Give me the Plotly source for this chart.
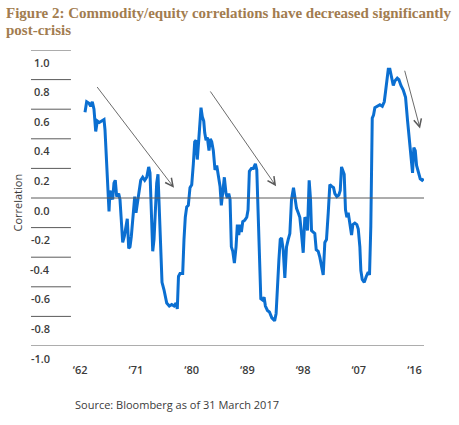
import plotly.graph_objects as go

# commodity/equity correlation
years = [1962.77, 1963.04, 1963.42, 1963.69, 1963.95, 1964.22, 1964.50, 1964.76, 1965.08, 1965.47,
         1965.84, 1966.00, 1966.28, 1966.44, 1966.65, 1966.81, 1967.08, 1967.24, 1967.45, 1967.66,
         1967.89, 1968.21, 1968.42, 1968.59, 1968.86, 1969.12, 1969.39, 1969.60, 1969.83, 1970.04,
         1970.25, 1970.48, 1970.80, 1971.01, 1971.22, 1971.45, 1971.77, 1972.09, 1972.42, 1972.74,
         1973.06, 1973.27, 1973.48, 1973.71, 1973.92, 1974.13, 1974.35, 1974.56, 1974.77, 1975.00,
         1975.21, 1975.53, 1975.97, 1976.39, 1976.78, 1977.15, 1977.47, 1977.68, 1977.87, 1978.12,
         1978.55, 1978.76, 1978.97, 1979.20, 1979.46, 1979.73, 1980.01, 1980.27, 1980.49, 1980.70,
         1980.91, 1981.14, 1981.35, 1981.51, 1981.72, 1981.95, 1982.11, 1982.32, 1982.53, 1982.80,
         1983.01, 1983.24, 1983.50, 1983.77, 1984.05, 1984.31, 1984.58, 1984.79, 1985.02, 1985.28,
         1985.55, 1985.76, 1985.99, 1986.20, 1986.41, 1986.64, 1986.90, 1987.17, 1987.38, 1987.61,
         1987.82, 1988.03, 1988.25, 1988.58, 1988.90, 1989.11, 1989.32, 1989.65, 1989.97, 1990.29,
         1990.52, 1990.73, 1990.94, 1991.17, 1991.49, 1991.70, 1991.91, 1992.24, 1992.56, 1992.95,
         1993.40, 1993.64, 1994.09, 1994.31, 1994.52, 1994.79, 1995.05, 1995.32, 1995.60, 1995.86,
         1996.13, 1996.45, 1996.66, 1996.94, 1997.21, 1997.47, 1997.74, 1998.02, 1998.28, 1998.55,
         1998.71, 1998.98, 1999.20, 1999.36, 1999.63, 1999.89, 2000.12, 2000.44, 2000.70, 2000.97,
         2001.25, 2001.51, 2001.78, 2002.06, 2002.32, 2002.59, 2002.92, 2003.13, 2003.45, 2003.77,
         2004.00, 2004.21, 2004.42, 2004.64, 2004.85, 2005.07, 2005.29, 2005.50, 2005.83, 2006.04,
         2006.36, 2006.68, 2006.91, 2007.17, 2007.33, 2007.55, 2007.88, 2008.20, 2008.52, 2008.73,
         2008.94, 2009.17, 2009.38, 2009.59, 2010.03, 2010.40, 2010.79, 2011.11, 2011.32, 2011.53,
         2011.76, 2012.02, 2012.29, 2012.57, 2012.82, 2013.21, 2013.47, 2013.80, 2014.18, 2014.55,
         2014.88, 2015.15, 2015.41, 2015.68, 2015.89, 2016.12, 2016.33, 2016.60, 2016.92, 2017.24,
         2017.50]
correlation = [0.58, 0.65, 0.64, 0.62, 0.65, 0.60, 0.45, 0.52, 0.51, 0.52,
               0.53, 0.46, 0.24, 0.05, -0.09, 0.05, 0.02, -0.01, 0.10, 0.12,
               0.01, 0.03, -0.01, -0.15, -0.30, -0.26, -0.17, -0.14, -0.34, -0.33,
               -0.26, -0.15, 0.01, -0.10, -0.04, 0.05, 0.12, 0.14, 0.12, 0.14,
               0.21, 0.17, -0.15, -0.36, -0.28, -0.06, 0.10, 0.16, -0.06, -0.33,
               -0.57, -0.62, -0.71, -0.73, -0.72, -0.73, -0.71, -0.75, -0.53, -0.51,
               -0.51, -0.28, -0.13, -0.06, -0.05, 0.07, 0.09, 0.23, 0.38, 0.39,
               0.26, 0.39, 0.53, 0.61, 0.55, 0.52, 0.44, 0.39, 0.41, 0.32,
               0.40, 0.38, 0.32, 0.19, 0.22, 0.16, 0.08, -0.05, 0.05, 0.14,
               0.03, 0.00, 0.03, -0.01, -0.33, -0.36, -0.44, -0.33, -0.18, -0.25,
               -0.18, -0.23, -0.16, -0.15, -0.13, -0.08, 0.18, 0.20, 0.20, 0.23,
               0.19, -0.10, -0.51, -0.68, -0.69, -0.67, -0.73, -0.76, -0.77, -0.81,
               -0.83, -0.78, -0.42, -0.28, -0.27, -0.35, -0.54, -0.33, -0.28, -0.24,
               -0.01, 0.07, 0.01, -0.07, -0.10, -0.13, -0.24, -0.37, -0.13, -0.15,
               -0.22, 0.12, -0.01, -0.22, -0.23, -0.24, -0.35, -0.36, -0.40, -0.46,
               -0.52, -0.30, -0.28, -0.10, 0.09, 0.08, 0.07, 0.03, 0.01, 0.02,
               0.05, 0.21, 0.19, 0.16, -0.08, -0.13, -0.10, -0.15, -0.25, -0.18,
               -0.17, -0.18, -0.21, -0.33, -0.49, -0.55, -0.57, -0.53, -0.50, -0.52,
               -0.19, 0.54, 0.56, 0.61, 0.62, 0.63, 0.62, 0.65, 0.72, 0.81,
               0.87, 0.87, 0.81, 0.76, 0.79, 0.81, 0.80, 0.76, 0.73, 0.68,
               0.52, 0.39, 0.31, 0.17, 0.34, 0.32, 0.22, 0.17, 0.13, 0.12,
               0.13]

y_ticks = [1.0, 0.8, 0.6, 0.4, 0.2, 0.0, -0.2, -0.4, -0.6, -0.8, -1.0]
x_ticks = [1962, 1971, 1980, 1989, 1998, 2007, 2016]
x_labels = ['\u201862', '\u201871', '\u201880', '\u201889', '\u201898', '\u201807', '\u201816']

# arrows: (tail year, tail value, head year, head value)
arrows = [(1964.55, 0.76, 1977.15, 0.07),
          (1982.85, 0.73, 1993.64, 0.08),
          (2014.35, 0.87, 2016.89, 0.47)]

title_lines = ['Figure 2: Commodity/equity correlations have decreased significantly', 'post-crisis']

TEXT_GREY = '#3b3b3b'
LINE_GREY = '#5a5a5a'
LABEL_X = -0.0554   # right edge of the y labels, paper units
RULE_X0 = -0.1165   # left end of the horizontal rules

fig = go.Figure()
fig.add_trace(go.Scatter(x=years, y=correlation, mode='lines',
                         line=dict(color='#0b6fd1', width=3), showlegend=False,
                         hovertemplate='%{x:.2f}: %{y:.2f}<extra></extra>'))

shapes = []
annotations = []
for v in y_ticks:
    full = v in (0.0, -1.0)
    shapes.append(dict(type='line', xref='paper', yref='y', x0=RULE_X0, x1=1 if full else -0.003,
                       y0=v, y1=v, line=dict(color=LINE_GREY, width=1)))
    annotations.append(dict(xref='paper', yref='y', x=LABEL_X, y=v, yshift=-12, text=f'{v:.1f}',
                            showarrow=False, xanchor='right', yanchor='middle',
                            font=dict(family='Open Sans', size=11, color=TEXT_GREY, weight=600)))

for tx, ty, hx, hy in arrows:
    annotations.append(dict(x=hx, y=hy, ax=tx, ay=ty, xref='x', yref='y', axref='x', ayref='y',
                            text='', showarrow=True, arrowhead=5, arrowsize=1.7, arrowwidth=0.9,
                            arrowcolor=LINE_GREY, standoff=0))

annotations.append(dict(xref='paper', yref='y', x=-0.156, y=-0.03, text='Correlation', textangle=-90,
                        showarrow=False, xanchor='center', yanchor='middle',
                        font=dict(family='Open Sans', size=11, color=TEXT_GREY)))
annotations.append(dict(xref='paper', yref='paper', x=0.003, y=-0.196,
                        text='Source: Bloomberg as of 31 March 2017', showarrow=False,
                        xanchor='left', yanchor='middle',
                        font=dict(family='Open Sans', size=11, color=TEXT_GREY)))
for line, ty in zip(title_lines, [1.126, 1.068]):
    annotations.append(dict(xref='paper', yref='paper', x=-0.193, y=ty, xanchor='left', yanchor='middle',
                            showarrow=False, text=line,
                            font=dict(family='Liberation Serif', size=15, color='#a27c4f', weight='bold')))

fig.update_layout(
    width=459, height=425,
    margin=dict(l=72, r=35, t=50, b=79),
    paper_bgcolor='white', plot_bgcolor='white',
    shapes=shapes, annotations=annotations,
)
fig.update_xaxes(range=[1960.67, 2017.53], tickmode='array', tickvals=x_ticks, ticktext=x_labels,
                 showgrid=False, zeroline=False, showline=False, ticks='', ticklabelstandoff=16,
                 tickfont=dict(family='Open Sans', size=11, color=TEXT_GREY, weight=600))
fig.update_yaxes(range=[-1, 1], showgrid=False, zeroline=False, showline=False,
                 showticklabels=False, ticks='')

fig.write_html('out.html', config={'displayModeBar': False},
               post_script="document.body.style.margin='0';")
